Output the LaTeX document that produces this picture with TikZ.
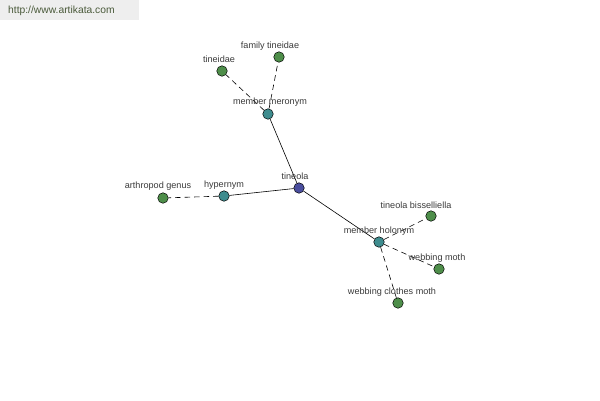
\documentclass[tikz,border=0pt]{standalone}
\usepackage{fontspec}
\setmainfont{Liberation Sans}
\usetikzlibrary{calc}
\definecolor{leafgreen}{HTML}{4E8E4A}
\definecolor{relteal}{HTML}{3E8C8E}
\definecolor{rootblue}{HTML}{4A4E9E}
\definecolor{labelgrey}{HTML}{3A3A3A}
\definecolor{bannergrey}{HTML}{EEEEEE}
\definecolor{bannertext}{HTML}{4A5A3A}
\tikzset{
	word/.style={circle, draw=black, line width=0.5pt, minimum size=10.5pt, inner sep=0pt},
	leaf/.style={word, fill=leafgreen},
	rel/.style={word, fill=relteal},
	root/.style={word, fill=rootblue},
	lbl/.style={text=labelgrey, font=\fontsize{9.1}{10}\selectfont, inner sep=0pt},
	link/.style={line width=0.6pt},
	weak/.style={line width=0.6pt, dash pattern=on 5.5pt off 4pt}
}

\begin{document}
\begin{tikzpicture}[x=1pt, y=-1pt]
		%%%%% START %%%%%
		\useasboundingbox (0, 0) rectangle (600, 400);
		
		\fill[bannergrey] (0, 0) rectangle (139, 20);
		\node[anchor=west, text=bannertext, font=\fontsize{10.3}{11}\selectfont, inner sep=0pt] (site) at (8, 11) {http://www.artikata.com};
		
		\node[root] (tineola) at (299, 188) {};
		
		\node[rel] (meronym) at (268, 114) {};
		\node[rel] (hypernym) at (224, 196) {};
		\node[rel] (holonym) at (379, 242) {};
		
		\node[leaf] (tineidae) at (222, 71) {};
		\node[leaf] (famtineidae) at (279, 57) {};
		\node[leaf] (arthropod) at (163, 198) {};
		\node[leaf] (bisselliella) at (431, 216) {};
		\node[leaf] (webmoth) at (439, 269) {};
		\node[leaf] (clothesmoth) at (398, 303) {};
		
		\draw[link] (tineola) -- (meronym);
		\draw[link] (tineola) -- (hypernym);
		\draw[link] (tineola) -- (holonym);
		
		\draw[weak] (meronym) -- (tineidae);
		\draw[weak] (meronym) -- (famtineidae);
		\draw[weak] (hypernym) -- (arthropod);
		\draw[weak] (holonym) -- (bisselliella);
		\draw[weak] (holonym) -- (webmoth);
		\draw[weak] (holonym) -- (clothesmoth);
		
		\node[lbl] (tineolatext) at (295, 176) {tineola};
		\node[lbl] (meronymtext) at (270, 102) {member meronym};
		\node[lbl] (hypernymtext) at (224, 185) {hypernym};
		\node[lbl] (holonymtext) at (379, 231) {member holonym};
		\node[lbl] (tineidaetext) at (219, 59) {tineidae};
		\node[lbl] (famtineidaetext) at (270, 46) {family tineidae};
		\node[lbl] (arthropodtext) at (158, 186) {arthropod genus};
		\node[lbl] (bisselliellatext) at (416, 205) {tineola bisselliella};
		\node[lbl] (webmothtext) at (437, 258) {webbing moth};
		\node[lbl] (clothesmothtext) at (392, 292) {webbing clothes moth};
		
		%%%%% END %%%%%
	\end{tikzpicture}
\end{document}
